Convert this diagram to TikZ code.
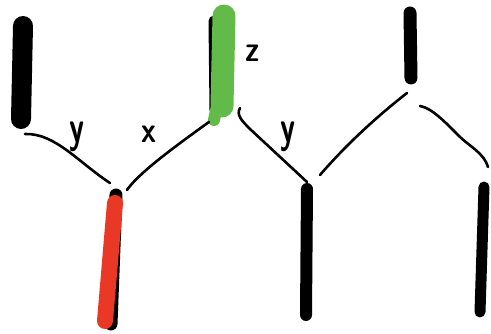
\documentclass[tikz,border=0pt]{standalone}
\definecolor{inkred}{RGB}{234,56,38}
\definecolor{inkgreen}{RGB}{98,186,72}
\begin{document}
\begin{tikzpicture}[x=1pt,y=-1pt,
  wire/.style={line width=2.6pt, line cap=round, line join=round},
  bar/.style={line width=#1, line cap=round},
  lab/.style={font=\sffamily\bfseries\fontsize{30}{30}\selectfont, inner sep=0pt}]
\useasboundingbox (0,0) rectangle (491,334);

% end points of the strands
\coordinate (ltop) at (23,26);   \coordinate (lbot) at (21,119);
\coordinate (gtop) at (224,16);  \coordinate (gbot) at (222,106);
\coordinate (rtop) at (410,13);  \coordinate (rbot) at (411,78);
\coordinate (m1a) at (116,195);  \coordinate (m1b) at (111,324);
\coordinate (m2a) at (307,189);  \coordinate (m2b) at (306,315);
\coordinate (m3a) at (484,187);  \coordinate (m3b) at (480,312);

% thick strands
\draw[bar=20pt] (ltop) -- (lbot);
\draw[bar=13pt] (m1a) -- (m1b);
\draw[bar=16pt, inkred] (115,203) -- (105,321);
\draw[bar=11pt] (214,21) -- (215,110);
\draw[bar=23pt, inkgreen] (gtop) -- (gbot);
\draw[bar=12pt, inkgreen] (216,110) -- (214,120);
\draw[bar=13pt] (rtop) -- (rbot);
\draw[bar=12pt] (m2a) -- (m2b);
\draw[bar=11pt] (m3a) -- (m3b);

% thin connecting wires
\coordinate (w1a) at (25,134);  \coordinate (w1b) at (110,183);
\coordinate (w2a) at (127,190); \coordinate (w2b) at (209,122);
\coordinate (w3a) at (240,108); \coordinate (w3b) at (307,182);
\coordinate (w4a) at (320,175); \coordinate (w4b) at (407,93);
\coordinate (w5a) at (420,106); \coordinate (w5b) at (488,167);

\draw[wire] (w1a) .. controls (55,133) and (78,162) .. (w1b);
\draw[wire] (w2a) .. controls (138,174) and (170,150) .. (w2b);
\draw[wire] (w3a) .. controls (236,115) and (242,121) .. (250,129) -- (w3b);
\draw[wire] (w4a) .. controls (345,146) and (375,118) .. (w4b);
\draw[wire] (w5a) .. controls (432,108) and (446,123) .. (458,135)
                  .. controls (470,147) and (484,153) .. (w5b);

% labels
\node[lab] (ly1) at (77,137) {\scalebox{1}[1.5]{y}};
\node[lab] (lx)  at (149,134) {\scalebox{1}[1.2]{x}};
\node[lab] (lz)  at (253,53)  {\scalebox{1}[1.2]{z}};
\node[lab] (ly2) at (288,137) {\scalebox{1}[1.5]{y}};
\end{tikzpicture}
\end{document}
